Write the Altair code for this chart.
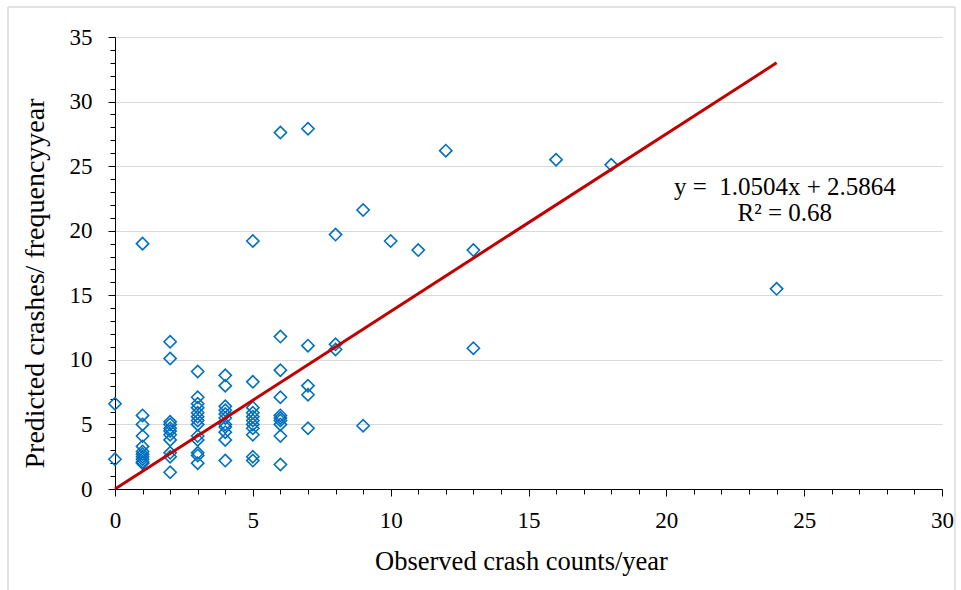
import altair as alt
import pandas as pd

# Observed crash counts/year (x) and predicted crashes (y)
obs = (
    [0, 0]
    + [1] * 11
    + [2] * 11
    + [3] * 13
    + [4] * 11
    + [5] * 11
    + [6] * 10
    + [7] * 5
    + [8] * 3
    + [9] * 2
    + [10, 11, 12, 13, 13, 16, 18, 24]
)
pred = (
    [6.6, 2.3]
    + [19.0, 5.7, 5.0, 4.1, 3.3, 2.9, 2.7, 2.5, 2.3, 2.1, 2.0]
    + [11.4, 10.1, 5.2, 5.0, 4.7, 4.5, 4.2, 3.8, 2.8, 2.5, 1.3]
    + [9.1, 7.1, 6.6, 6.3, 5.9, 5.6, 5.3, 5.0, 4.1, 3.8, 2.8, 2.6, 2.0]
    + [8.8, 8.0, 6.4, 6.1, 5.8, 5.5, 5.0, 4.8, 4.4, 3.8, 2.2]
    + [19.2, 8.3, 6.3, 5.9, 5.6, 5.3, 5.0, 4.7, 4.2, 2.5, 2.2]
    + [27.6, 11.8, 9.2, 7.1, 5.7, 5.5, 5.3, 5.0, 4.1, 1.9]
    + [27.9, 11.1, 8.0, 7.3, 4.7]
    + [19.7, 11.2, 10.8]
    + [21.6, 4.9]
    + [19.2, 18.5, 26.2, 18.5, 10.9, 25.5, 25.1, 15.5]
)

# Trend line as drawn
line_x = [0, 24]
line_y = [0, 33]

# Equation annotation (two lines in one text)
ann_text = ["y =\u00a0 1.0504x + 2.5864\nR\u00b2 = 0.68"]
ann_x = [24.3]
ann_y = [23.4]

x_ticks = list(range(0, 31))
y_ticks = list(range(0, 36))

FONT = "Liberation Serif"
BLUE = "#0070C0"
RED = "#C00000"
GRID = "#D9D9D9"

pts = pd.DataFrame({"x": obs, "y": pred})
ln = pd.DataFrame({"x": line_x, "y": line_y})
ann = pd.DataFrame({"x": ann_x, "y": ann_y, "t": ann_text})

major = "datum.value % 5 === 0"

xscale = alt.Scale(domain=[0, 30], nice=False, zero=False)
yscale = alt.Scale(domain=[0, 35], nice=False, zero=False)

xaxis = alt.Axis(
    values=x_ticks,
    labelExpr=f"{major} ? datum.label : ''",
    tickSize={"condition": {"test": major, "value": 7}, "value": 5},
    grid=False,
    domainColor="black",
    tickColor="black",
    labelColor="black",
    labelFont=FONT,
    labelFontSize=23,
    labelPadding=13,
    labelOverlap=False,
    labelFlush=False,
    title="Observed crash counts/year",
    titleFont=FONT,
    titleFontSize=26.5,
    titleFontWeight="normal",
    titleColor="black",
    titlePadding=16,
    titleX=406,
)
yaxis = alt.Axis(
    values=y_ticks,
    labelExpr=f"{major} ? datum.label : ''",
    tickSize={"condition": {"test": major, "value": 7}, "value": 5},
    grid=True,
    gridColor=GRID,
    gridOpacity={"condition": {"test": major, "value": 1}, "value": 0},
    domainColor="black",
    tickColor="black",
    labelColor="black",
    labelFont=FONT,
    labelFontSize=23,
    labelPadding=16,
    labelOverlap=False,
    labelFlush=False,
    title="Predicted crashes/ frequencyyear",
    titleFont=FONT,
    titleFontSize=28,
    titleFontWeight="normal",
    titleColor="black",
    titlePadding=20,
    titleY=246,
)

X = alt.X("x:Q", scale=xscale, axis=xaxis)
Y = alt.Y("y:Q", scale=yscale, axis=yaxis)

frame = alt.Chart(ln).mark_rect(fill=None, stroke=GRID, strokeWidth=1).encode(
    x=alt.value(-107), x2=alt.value(840), y=alt.value(-30), y2=alt.value(563)
)

points = alt.Chart(pts).mark_point(
    shape="diamond", filled=False, color=BLUE, size=150, strokeWidth=1.6, opacity=1
).encode(x=X, y=Y)

trend = alt.Chart(ln).mark_line(color=RED, strokeWidth=3).encode(x=X, y=Y)

label = alt.Chart(ann).mark_text(
    font=FONT, fontSize=25, color="black", align="center", baseline="middle",
    lineBreak="\n", lineHeight=26.5,
).encode(x=X, y=Y, text="t:N")

chart = (
    alt.layer(frame, points, trend, label)
    .properties(
        width=827,
        height=452,
        autosize=alt.AutoSizeParams(type="none"),
        padding={"left": 115, "top": 37, "right": 19, "bottom": 101},
        background="white",
    )
    .configure_view(stroke=None)
)

chart.save("out.html", embed_options={"renderer": "svg", "actions": False})
